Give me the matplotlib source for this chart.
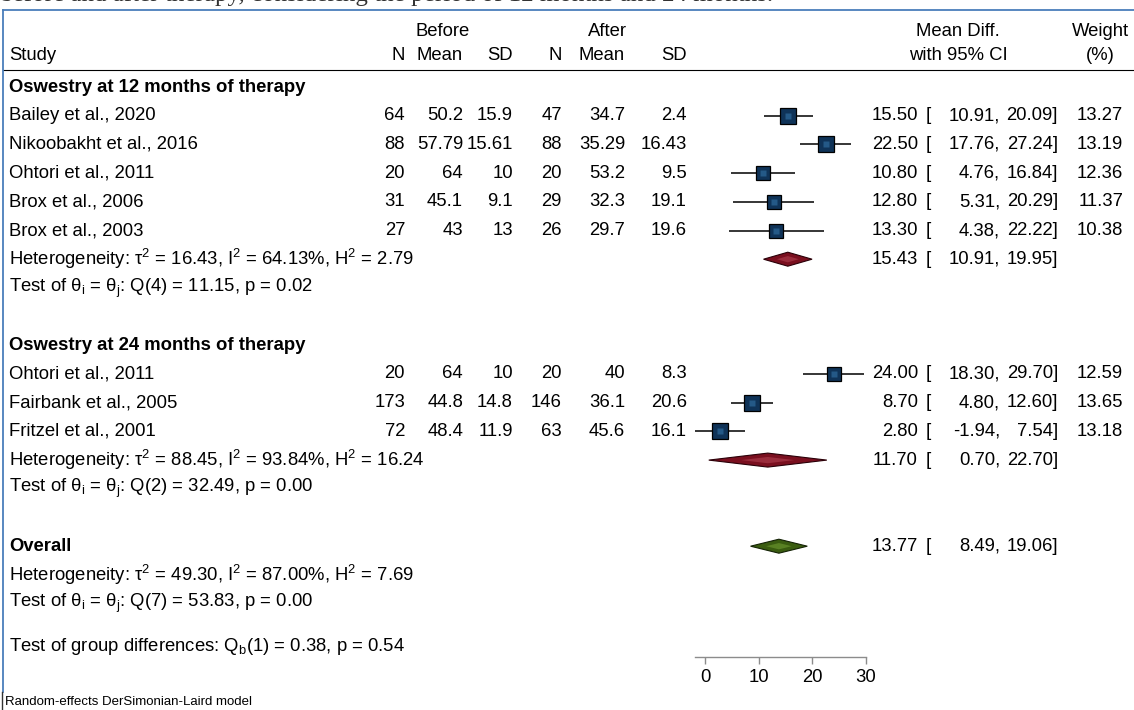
import matplotlib
matplotlib.use("Agg")
import matplotlib.pyplot as plt
from matplotlib.transforms import blended_transform_factory
from matplotlib.lines import Line2D

plt.rcParams['font.family'] = ['Liberation Sans', 'DejaVu Sans']
plt.rcParams['mathtext.default'] = 'regular'

# ---------------- data ----------------
group_titles = ["Oswestry at 12 months of therapy", "Oswestry at 24 months of therapy"]

g1_study = ["Bailey et al., 2020", "Nikoobakht et al., 2016", "Ohtori et al., 2011",
            "Brox et al., 2006", "Brox et al., 2003"]
g1_n_before = [64, 88, 20, 31, 27]
g1_mean_before = [50.2, 57.79, 64, 45.1, 43]
g1_sd_before = [15.9, 15.61, 10, 9.1, 13]
g1_n_after = [47, 88, 20, 29, 26]
g1_mean_after = [34.7, 35.29, 53.2, 32.3, 29.7]
g1_sd_after = [2.4, 16.43, 9.5, 19.1, 19.6]
g1_md = [15.50, 22.50, 10.80, 12.80, 13.30]
g1_lo = [10.91, 17.76, 4.76, 5.31, 4.38]
g1_hi = [20.09, 27.24, 16.84, 20.29, 22.22]
g1_weight = [13.27, 13.19, 12.36, 11.37, 10.38]

g2_study = ["Ohtori et al., 2011", "Fairbank et al., 2005", "Fritzel et al., 2001"]
g2_n_before = [20, 173, 72]
g2_mean_before = [64, 44.8, 48.4]
g2_sd_before = [10, 14.8, 11.9]
g2_n_after = [20, 146, 63]
g2_mean_after = [40, 36.1, 45.6]
g2_sd_after = [8.3, 20.6, 16.1]
g2_md = [24.00, 8.70, 2.80]
g2_lo = [18.30, 4.80, -1.94]
g2_hi = [29.70, 12.60, 7.54]
g2_weight = [12.59, 13.65, 13.18]

# pooled estimates: [group 12m, group 24m, overall]
pooled_md = [15.43, 11.70, 13.77]
pooled_lo = [10.91, 0.70, 8.49]
pooled_hi = [19.95, 22.70, 19.06]
het_tau2 = [16.43, 88.45, 49.30]
het_i2 = [64.13, 93.84, 87.00]
het_h2 = [2.79, 16.24, 7.69]
q_stat = [11.15, 32.49, 53.83]
q_df = [4, 2, 7]
q_p = [0.02, 0.00, 0.00]
qb_stat, qb_df, qb_p = 0.38, 1, 0.54

x_ticks = [0, 10, 20, 30]
caption = "before and after therapy, considering the period of 12 months and 24 months."
footer = "Random-effects DerSimonian-Laird model"

# ---------------- layout (pixels) ----------------
W, H = 1134, 710
ROW0, STEP = 87.0, 28.7
AX_BOTTOM = 657
ZERO_PX, PPU = 705.0, 161.0 / 30.0
FS = 13.3
X_STUDY = 9
COL_R = {'nb': 405, 'mb': 463, 'sb': 513, 'na': 562, 'ma': 625, 'sa': 687}
X_EST_R, X_BRK_L, X_LO_R, X_HI_R, X_W_R = 918, 926, 1000, 1058, 1123

fig = plt.figure(figsize=(W / 100, H / 100), dpi=100)
ax = fig.add_axes([0, (H - AX_BOTTOM) / H, 1, AX_BOTTOM / H])
ax.set_xlim((0 - ZERO_PX) / PPU, (W - ZERO_PX) / PPU)
ax.set_ylim((AX_BOTTOM - ROW0) / STEP, (0 - ROW0) / STEP)
ax.patch.set_alpha(0)
for s in ['top', 'left', 'right']:
    ax.spines[s].set_visible(False)
all_lo = g1_lo + g2_lo + pooled_lo
ax.spines['bottom'].set_bounds(min(all_lo), max(x_ticks))
ax.spines['bottom'].set_color('#8c8c8c')
ax.spines['bottom'].set_linewidth(1.0)
ax.set_xticks(x_ticks)
ax.tick_params(axis='x', direction='out', length=5, width=1.0, color='#8c8c8c',
               labelsize=FS, pad=4)
ax.set_yticks([])

tr = blended_transform_factory(fig.transFigure, ax.transData)


def txt(px, row, s, ha='left', **kw):
    ax.text(px / W, row, s, transform=tr, ha=ha, va='center', fontsize=FS, **kw)


def fmt(v):
    return f"{v:g}"


def square(row, md, lo, hi, w):
    ax.plot([lo, hi], [row, row], color='black', lw=1.1, zorder=2, solid_capstyle='butt')
    side_pt = 4.2 * (w ** 0.5) * 0.72
    ax.plot([md], [row], marker='s', ms=side_pt, mfc='#0f3358', mec='black', mew=0.9, zorder=3)
    ax.plot([md], [row], marker='s', ms=side_pt * 0.45, mfc='#2e6a9c', mec='none',
            alpha=0.7, zorder=4)


def diamond(row, md, lo, hi, face, light, edge):
    hh = 7.0 / STEP
    ax.fill([lo, md, hi, md], [row, row - hh, row, row + hh], facecolor=face,
            edgecolor=edge, lw=0.8, zorder=3)
    k = 0.45
    ax.fill([md - (md - lo) * k, md, md + (hi - md) * k, md],
            [row, row - hh * k, row, row + hh * k], facecolor=light, edgecolor='none',
            alpha=0.6, zorder=4)


def ci_text(row, md, lo, hi, w=None):
    txt(X_EST_R, row, f"{md:.2f}", ha='right')
    txt(X_BRK_L, row, "[", ha='left')
    txt(X_LO_R, row, f"{lo:.2f},", ha='right')
    txt(X_HI_R, row, f"{hi:.2f}]", ha='right')
    if w is not None:
        txt(X_W_R, row, f"{w:.2f}", ha='right')


def het_lines(row, k):
    txt(X_STUDY, row, f"Heterogeneity: τ$^2$ = {het_tau2[k]:.2f}, I$^2$ = {het_i2[k]:.2f}%, "
                      f"H$^2$ = {het_h2[k]:.2f}")
    txt(X_STUDY, row + 1, f"Test of θ$_i$ = θ$_j$: Q({q_df[k]}) = {q_stat[k]:.2f}, "
                          f"p = {q_p[k]:.2f}")


groups = [
    (g1_study, g1_n_before, g1_mean_before, g1_sd_before, g1_n_after, g1_mean_after,
     g1_sd_after, g1_md, g1_lo, g1_hi, g1_weight),
    (g2_study, g2_n_before, g2_mean_before, g2_sd_before, g2_n_after, g2_mean_after,
     g2_sd_after, g2_md, g2_lo, g2_hi, g2_weight),
]

row = 0
for gi, g in enumerate(groups):
    study, nb, mb, sb, na, ma, sa, md, lo, hi, wt = g
    txt(X_STUDY, row, group_titles[gi], fontweight='bold')
    row += 1
    for i in range(len(study)):
        txt(X_STUDY, row, study[i])
        for key, arr in zip(['nb', 'mb', 'sb', 'na', 'ma', 'sa'], [nb, mb, sb, na, ma, sa]):
            txt(COL_R[key], row, fmt(arr[i]), ha='right')
        square(row, md[i], lo[i], hi[i], wt[i])
        ci_text(row, md[i], lo[i], hi[i], wt[i])
        row += 1
    diamond(row, pooled_md[gi], pooled_lo[gi], pooled_hi[gi], '#7a0f1f', '#b04050', '#2a0008')
    ci_text(row, pooled_md[gi], pooled_lo[gi], pooled_hi[gi])
    het_lines(row, gi)
    row += 3

txt(X_STUDY, row, "Overall", fontweight='bold')
diamond(row, pooled_md[2], pooled_lo[2], pooled_hi[2], '#3a5c10', '#6f9a30', '#142205')
ci_text(row, pooled_md[2], pooled_lo[2], pooled_hi[2])
het_lines(row + 1, 2)
txt(X_STUDY, row + 3.5, f"Test of group differences: Q$_b$({qb_df}) = {qb_stat:.2f}, p = {qb_p:.2f}")

# ---------------- headers ----------------
def ftxt(px, py, s, ha='center', **kw):
    fig.text(px / W, 1 - py / H, s, ha=ha, va='center', fontsize=FS, **kw)

HY1, HY2 = 32, 56
ftxt(443, HY1, "Before")
ftxt(607, HY1, "After")
ftxt(958, HY1, "Mean Diff.")
ftxt(1100, HY1, "Weight")
ftxt(X_STUDY, HY2, "Study", ha='left')
for key, lab in zip(['nb', 'mb', 'sb', 'na', 'ma', 'sa'], ["N", "Mean", "SD", "N", "Mean", "SD"]):
    ftxt(COL_R[key], HY2, lab, ha='right')
ftxt(958, HY2, "with 95% CI")
ftxt(1100, HY2, "(%)")

fig.add_artist(Line2D([3 / W, 1], [1 - 70 / H] * 2, transform=fig.transFigure,
                      color='black', lw=0.8))
# frame of the embedded figure
fig.add_artist(Line2D([3 / W, 1], [1 - 10 / H] * 2, transform=fig.transFigure,
                      color='#4a7ebb', lw=1.3))
fig.add_artist(Line2D([3 / W, 3 / W], [1 - 10 / H, 1 - 692 / H], transform=fig.transFigure,
                      color='#4a7ebb', lw=1.3))
fig.add_artist(Line2D([1.5 / W, 1.5 / W], [1 - 692 / H, 0], transform=fig.transFigure,
                      color='#333333', lw=1.0))

fig.text(0, 1 - 1 / H, caption, ha='left', va='baseline', fontsize=18,
         family='Liberation Serif', color='#333333')
fig.text(5 / W, 1 - 702 / H, footer, ha='left', va='center', fontsize=9.5)

fig.savefig("out.png", dpi=100)
